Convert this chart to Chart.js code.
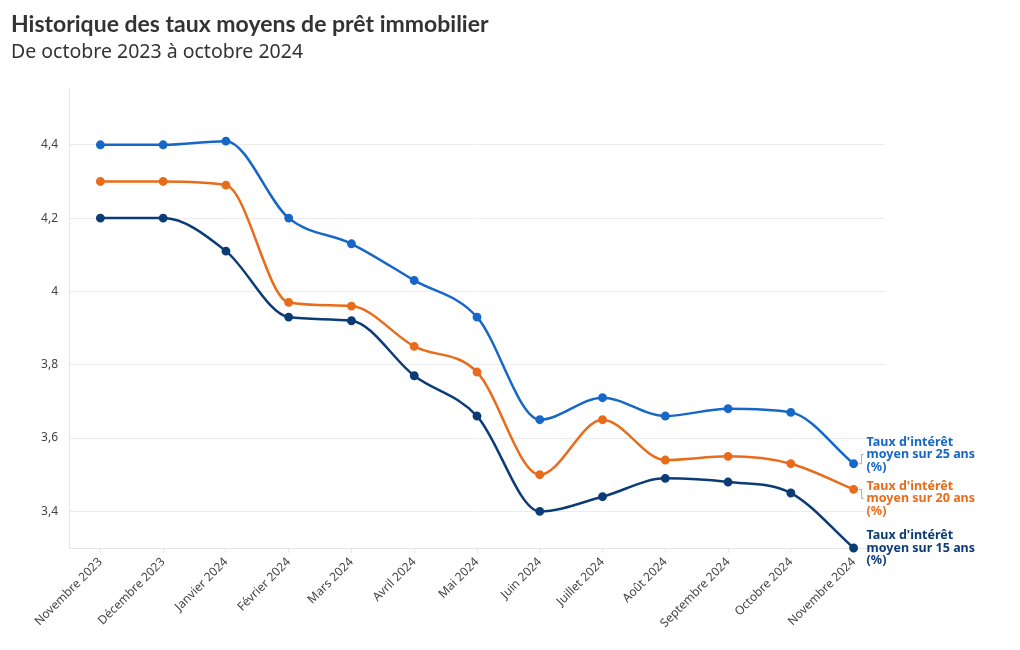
<!DOCTYPE html>
<html>
<head>
<meta charset="utf-8">
<script src="https://cdn.jsdelivr.net/npm/chart.js@4"></script>
<style>
  body { margin: 0; background: #fff; font-family: "Noto Sans", sans-serif; }
  #wrap { position: relative; width: 1020px; height: 650px; }
  #title { position: absolute; left: 11px; top: 9px; font-family: Lato, sans-serif; font-size: 23px; font-weight: bold; color: #333; }
  #sub { position: absolute; left: 11px; top: 37px; font-size: 19.5px; color: #333; }
  canvas { position: absolute; left: 0; top: 0; }
</style>
</head>
<body>
<div id="wrap">
  <canvas id="chart" width="1020" height="650"></canvas>
  <div id="title">Historique des taux moyens de prêt immobilier</div>
  <div id="sub">De octobre 2023 à octobre 2024</div>
</div>
<script>
var months = ['Novembre 2023', 'Décembre 2023', 'Janvier 2024', 'Février 2024', 'Mars 2024', 'Avril 2024',
    'Mai 2024', 'Juin 2024', 'Juillet 2024', 'Août 2024', 'Septembre 2024', 'Octobre 2024', 'Novembre 2024'];
var taux25 = [4.40, 4.40, 4.41, 4.20, 4.13, 4.03, 3.93, 3.65, 3.71, 3.66, 3.68, 3.67, 3.53];
var taux20 = [4.30, 4.30, 4.29, 3.97, 3.96, 3.85, 3.78, 3.50, 3.65, 3.54, 3.55, 3.53, 3.46];
var taux15 = [4.20, 4.20, 4.11, 3.93, 3.92, 3.77, 3.66, 3.40, 3.44, 3.49, 3.48, 3.45, 3.30];
var yTicks = [3.4, 3.6, 3.8, 4.0, 4.2, 4.4];
var seriesNames = ["Taux d'intérêt|moyen sur 25 ans|(%)", "Taux d'intérêt|moyen sur 20 ans|(%)", "Taux d'intérêt|moyen sur 15 ans|(%)"];

var blue = '#1667c7', orange = '#e86c1a', navy = '#0c3c75';

function serie(label, data, color) {
    return {
        label: label,
        data: data,
        borderColor: color,
        backgroundColor: color,
        borderWidth: 2.5,
        pointRadius: 3.2,
        pointHoverRadius: 4,
        clip: false,
        cubicInterpolationMode: 'monotone'
    };
}

// labels at line ends, spread apart so they don't overlap
var endLabels = {
    id: 'endLabels',
    afterDatasetsDraw: function (chart) {
        var ctx = chart.ctx;
        var items = chart.data.datasets.map(function (ds, i) {
            var pts = chart.getDatasetMeta(i).data;
            var p = pts[pts.length - 1];
            return { x: p.x, y: p.y, c: p.y, color: ds.borderColor, lines: seriesNames[i].split('|') };
        });
        items.sort(function (a, b) { return a.y - b.y; });
        var gap = 44;
        for (var k = 0; k < 5; k++) {
            for (var i = 1; i < items.length; i++) {
                var a = items[i - 1], b = items[i];
                if (b.c - a.c < gap) {
                    var m = (a.c + b.c) / 2;
                    a.c = m - gap / 2; b.c = m + gap / 2;
                }
            }
        }
        ctx.save();
        items.forEach(function (it) {
            if (Math.abs(it.c - it.y) > 2) {
                ctx.strokeStyle = '#aaa';
                ctx.lineWidth = 1;
                ctx.beginPath();
                ctx.moveTo(it.x + 5, it.y);
                ctx.lineTo(it.x + 8, it.y);
                ctx.lineTo(it.x + 8, it.c);
                ctx.lineTo(it.x + 10, it.c);
                ctx.stroke();
            }
            ctx.fillStyle = it.color;
            ctx.font = 'bold 12.5px "Noto Sans"';
            ctx.textBaseline = 'middle';
            ctx.textAlign = 'left';
            it.lines.forEach(function (t, j) {
                ctx.fillText(t, it.x + 13, it.c + (j - 1) * 12.5);
            });
        });
        ctx.restore();
    }
};

new Chart(document.getElementById('chart'), {
    type: 'line',
    data: {
        labels: months,
        datasets: [serie('25 ans', taux25, blue), serie('20 ans', taux20, orange), serie('15 ans', taux15, navy)]
    },
    options: {
        responsive: false,
        animation: false,
        layout: { padding: { left: 0, right: 135, top: 88, bottom: 0 } },
        plugins: { legend: { display: false }, tooltip: { enabled: false } },
        scales: {
            x: {
                offset: true,
                grid: { offset: false, drawOnChartArea: false, tickLength: 5, color: '#e6e6e6' },
                border: { color: '#e6e6e6' },
                ticks: { color: '#444', font: { size: 12, family: 'Noto Sans' }, maxRotation: 45, minRotation: 45, padding: 2 },
                afterFit: function (s) { s.height = 102; }
            },
            y: {
                min: 3.3,
                max: 4.555,
                grid: { color: '#ececec', drawTicks: false },
                border: { color: '#e6e6e6' },
                ticks: {
                    color: '#444', padding: 11, font: { size: 12, family: 'Noto Sans' },
                    callback: function (v) { return String(Math.round(v * 10) / 10).replace('.', ','); }
                },
                afterBuildTicks: function (s) { s.ticks = yTicks.map(function (v) { return { value: v }; }); },
                afterFit: function (s) { s.width = 69; }
            }
        }
    },
    plugins: [endLabels]
});
</script>
</body>
</html>
